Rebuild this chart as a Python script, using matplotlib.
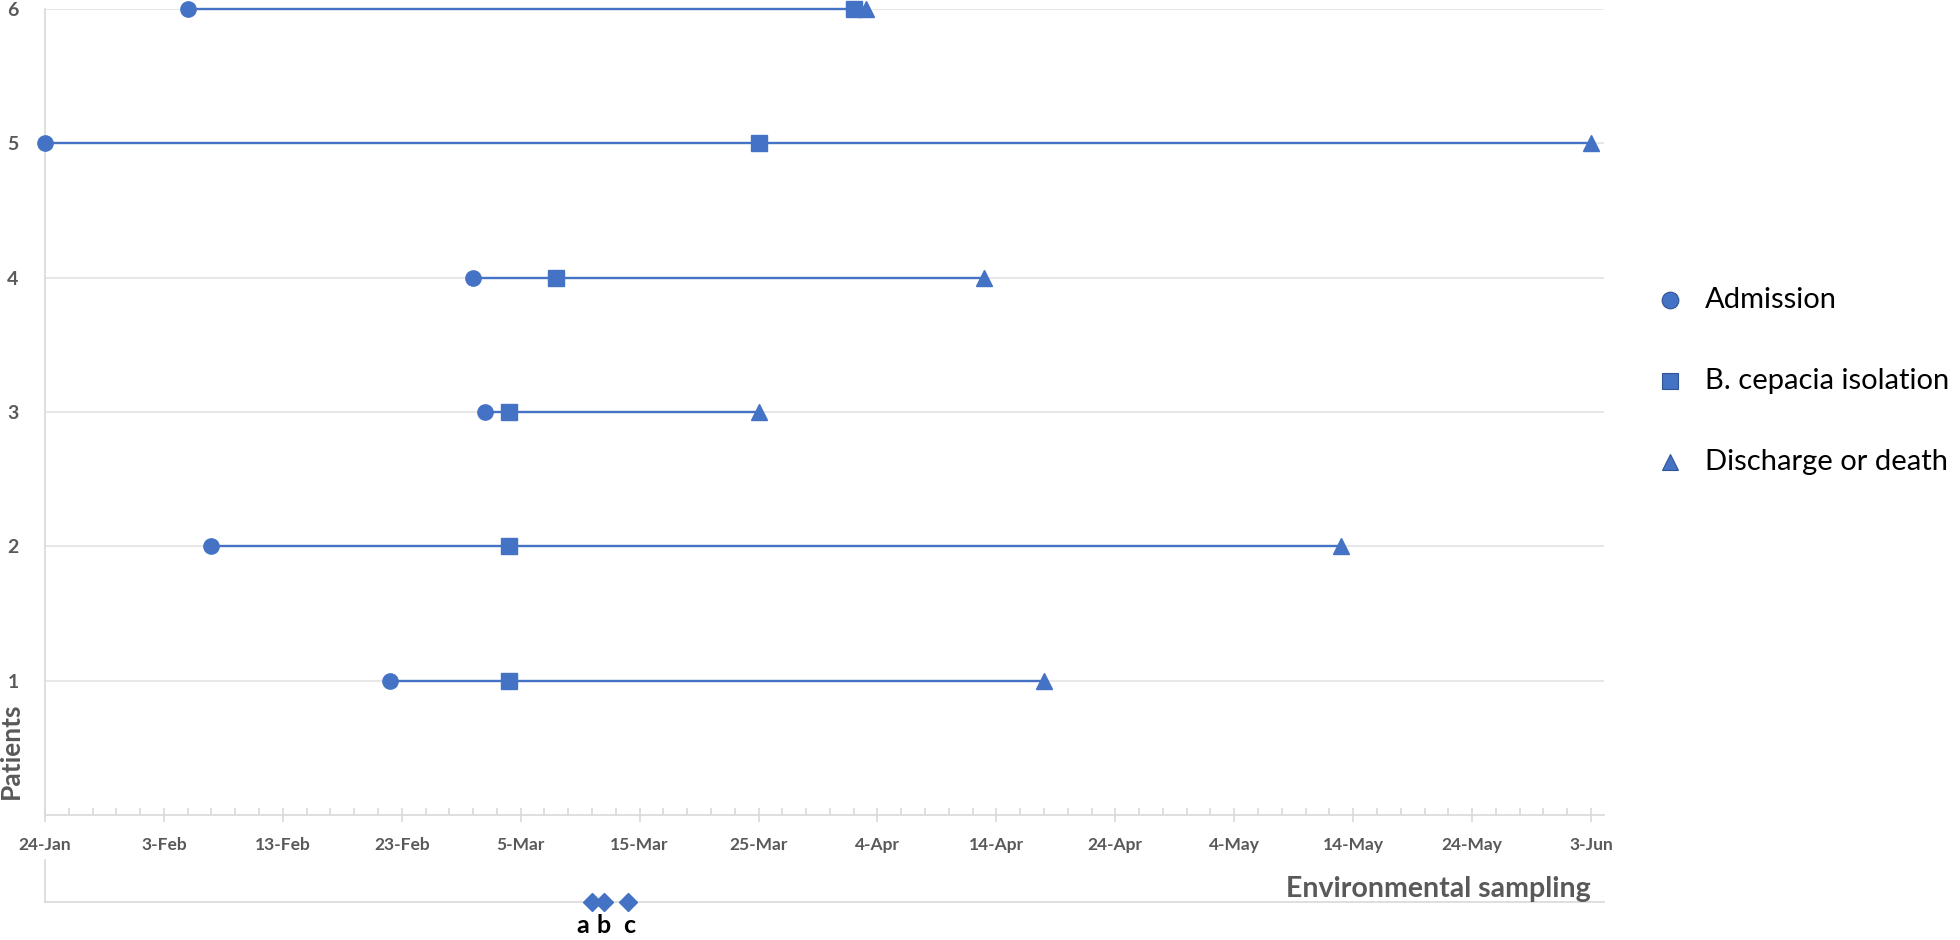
import matplotlib
matplotlib.use("Agg")
import matplotlib.pyplot as plt
import matplotlib.dates as mdates
from matplotlib.lines import Line2D
import datetime as dt

# ---- data ----
patients = [1, 2, 3, 4, 5, 6]
admission = ["2019-02-22", "2019-02-07", "2019-03-02", "2019-03-01", "2019-01-24", "2019-02-05"]
isolation = ["2019-03-04", "2019-03-04", "2019-03-04", "2019-03-08", "2019-03-25", "2019-04-02"]
discharge = ["2019-04-18", "2019-05-13", "2019-03-25", "2019-04-13", "2019-06-03", "2019-04-03"]
env_dates = ["2019-03-11", "2019-03-12", "2019-03-14"]
env_labels = ["a", "b", "c"]
legend_labels = ["Admission", "B. cepacia isolation", "Discharge or death"]
x_start = "2019-01-24"
x_end = "2019-06-03"

# ---- style ----
BLUE = "#4472C4"
GRID = "#E3E3E3"
TICKC = "#595959"
FONT = ["Lato", "DejaVu Sans"]
plt.rcParams["font.family"] = FONT

def d(s):
    return mdates.date2num(dt.datetime.strptime(s, "%Y-%m-%d"))

fig = plt.figure(figsize=(19.6, 9.4), dpi=100)
W, H = 1960, 940
left_px, right_px, top_px, bot_px = 45, 1604, 9, 815
ax = fig.add_axes([left_px / W, 1 - bot_px / H, (right_px - left_px) / W, (bot_px - top_px) / H])

x0 = d(x_start)
x1 = d(x_end)
px_per_day = (1591 - 45) / (x1 - x0)
xmax = x0 + (right_px - left_px) / px_per_day

for p, a, i, e in zip(patients, admission, isolation, discharge):
    ax.plot([d(a), d(e)], [p, p], color=BLUE, lw=1.7, zorder=3, clip_on=False, solid_capstyle="butt")
    ax.plot(d(a), p, marker="o", ms=11, color=BLUE, ls="none", zorder=4, clip_on=False)
    ax.plot(d(i), p, marker="s", ms=11, color=BLUE, ls="none", zorder=4, clip_on=False)
    ax.plot(d(e), p, marker="^", ms=11, color=BLUE, ls="none", zorder=4, clip_on=False)

ax.set_xlim(x0, xmax)
ax.set_ylim(0, 6)
ax.set_yticks(range(1, 7))
ax.yaxis.grid(True, color=GRID, lw=1.2)
ax.set_axisbelow(True)
for s in ["top", "right"]:
    ax.spines[s].set_visible(False)
for s in ["left", "bottom"]:
    ax.spines[s].set_color("#D9D9D9")
    ax.spines[s].set_linewidth(1.2)

major = [x0 + 10 * k for k in range(14)]
minor = [x0 + 2 * k for k in range(66)]
ax.set_xticks(major)
ax.set_xticks(minor, minor=True)
ax.set_xticklabels([mdates.num2date(m).strftime("%-d-%b") for m in major])
ax.tick_params(axis="x", which="major", direction="inout", length=10, color="#D9D9D9", width=1.2,
               pad=11, labelsize=12.5, labelcolor=TICKC)
ax.tick_params(axis="x", which="minor", direction="in", length=5, color="#D9D9D9", width=1.2)
for t in ax.get_xticklabels():
    t.set_fontweight("bold")
ax.tick_params(axis="y", length=0, pad=19, labelsize=14, labelcolor=TICKC)
for t in ax.get_yticklabels():
    t.set_fontweight("bold")

ax.set_ylabel("Patients", fontsize=19, fontweight="bold", color=TICKC)
ax.yaxis.set_label_coords(-0.0145, 0.08)

# ---- environmental sampling axis ----
ax2 = fig.add_axes([left_px / W, 1 - 902 / H, (right_px - left_px) / W, (902 - 860) / H])
ax2.set_xlim(x0, xmax)
ax2.set_ylim(0, 1)
ax2.set_xticks([]); ax2.set_yticks([])
for s in ["top", "right"]:
    ax2.spines[s].set_visible(False)
for s in ["left", "bottom"]:
    ax2.spines[s].set_color("#D9D9D9")
    ax2.spines[s].set_linewidth(1.2)
ev = [d(s) for s in env_dates]
ax2.plot(ev, [0] * len(ev), marker="D", ms=9, color=BLUE, ls="none", clip_on=False, zorder=4)
label_dx = [-7, 0, 1]  # small offsets (points) so that labels do not collide
for xv, lab, dx in zip(ev, env_labels, label_dx):
    ax2.annotate(lab, (xv, 0), xytext=(dx, -17), textcoords="offset points", ha="center", va="center",
                 fontsize=18, fontweight="bold", color="black", annotation_clip=False)
ax2.text(x1, 0.31, "Environmental sampling", ha="right", va="center", fontsize=20.5,
         fontweight="bold", color=TICKC)

# ---- legend (manual) ----
leg_markers = ["o", "s", "^"]
leg_y = [300, 381, 462]
for m, lab, yy in zip(leg_markers, legend_labels, leg_y):
    fig.add_artist(Line2D([1670 / W], [1 - yy / H], marker=m, ms=12, color=BLUE,
                          markeredgecolor="#2F5597", markeredgewidth=0.8, ls="none",
                          transform=fig.transFigure))
    fig.text(1705 / W, 1 - yy / H, lab, ha="left", va="center", fontsize=21, color="black")

fig.savefig("out.png", dpi=100)
